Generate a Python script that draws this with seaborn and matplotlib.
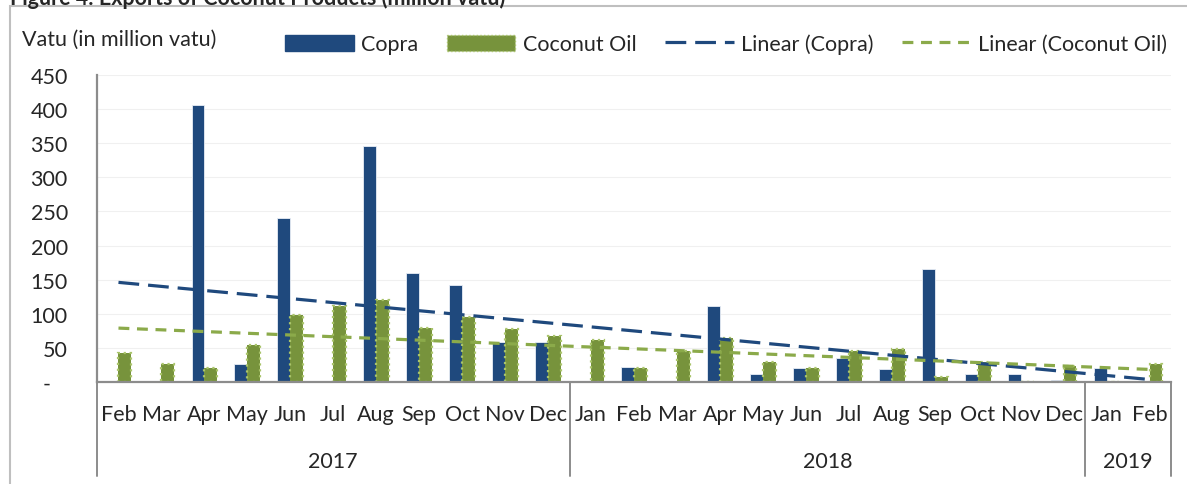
import numpy as np
import pandas as pd
import matplotlib.pyplot as plt
import matplotlib.patches as mpatches
from matplotlib.lines import Line2D
import seaborn as sns

# ---- DATA ----
months = ["Feb", "Mar", "Apr", "May", "Jun", "Jul", "Aug", "Sep", "Oct", "Nov", "Dec",
          "Jan", "Feb", "Mar", "Apr", "May", "Jun", "Jul", "Aug", "Sep", "Oct", "Nov", "Dec",
          "Jan", "Feb"]
years = ["2017", "2018", "2019"]
months_per_year = [11, 12, 2]

copra = [0, 0, 406, 26, 241, 0, 346, 160, 142, 59, 58,
         0, 22, 0, 112, 12, 20, 35, 19, 166, 12, 12, 3,
         20, 0]
coconut_oil = [43, 26, 21, 54, 98, 112, 120, 79, 96, 78, 67,
               61, 21, 46, 65, 29, 20, 46, 48, 7, 30, 0, 24,
               0, 27]

copra_color = "#1F497D"
oil_color = "#77933C"
oil_edge = "#A9C46A"

# ---- STYLE ----
sns.set_theme(style="white")
plt.rcParams["font.family"] = ["Lato", "DejaVu Sans"]
fs = 15.5

n = len(months)
idx = np.arange(n)
df = pd.DataFrame({
    "idx": np.concatenate([idx, idx]),
    "value": copra + coconut_oil,
    "series": ["Copra"] * n + ["Coconut Oil"] * n,
})

fig = plt.figure(figsize=(11.87, 4.85), dpi=100)
ax = fig.add_axes([97 / 1187, 102 / 485, (1171 - 97) / 1187, 307 / 485])

sns.barplot(data=df, x="idx", y="value", hue="series", hue_order=["Copra", "Coconut Oil"],
            palette=[copra_color, oil_color], saturation=1, width=0.6, ax=ax, legend=False)

# dotted edge on the coconut oil bars
for bar in ax.containers[1]:
    bar.set_edgecolor(oil_edge)
    bar.set_linestyle(":")
    bar.set_linewidth(1.6)
for bar in ax.containers[0]:
    bar.set_edgecolor("#E8EEF6")
    bar.set_linewidth(0.6)

# linear trend lines (least squares fit, like Excel)
c_fit = np.polyfit(idx, copra, 1)
o_fit = np.polyfit(idx, coconut_oil, 1)
ax.plot(idx, np.polyval(c_fit, idx), color=copra_color, lw=2.3, dashes=(6.5, 2.8), zorder=5)
ax.plot(idx, np.polyval(o_fit, idx), color="#8BAA4A", lw=2.3, dashes=(3.4, 2.4), zorder=5)

# axes
ax.set_xlim(-0.5, n - 0.5)
ax.set_ylim(0, 450)
ax.set_yticks(range(0, 451, 50))
ax.set_yticklabels(["-   "] + [str(v) for v in range(50, 451, 50)], fontsize=fs)
ax.set_xticks(idx)
ax.set_xticklabels(months, fontsize=fs)
ax.tick_params(axis="y", length=0, pad=21)
ax.tick_params(axis="x", length=0, pad=16)
ax.set_xlabel("")
ax.set_ylabel("")
ax.yaxis.grid(True, color="#F0F0F0", lw=0.8)
ax.set_axisbelow(True)
for side in ["top", "right"]:
    ax.spines[side].set_visible(False)
ax.spines["left"].set_color("#8C8C8C")
ax.spines["left"].set_linewidth(1.6)
ax.spines["bottom"].set_color("#8C8C8C")
ax.spines["bottom"].set_linewidth(1.6)

# year level of the category axis
bottom = -(477 - 383) / 307
bounds = np.concatenate([[0], np.cumsum(months_per_year)]) - 0.5
for b in bounds:
    ax.plot([b, b], [0, bottom], transform=ax.get_xaxis_transform(), color="#8C8C8C",
            lw=1.4, clip_on=False)
for i, y in enumerate(years):
    mid = (bounds[i] + bounds[i + 1]) / 2
    ax.text(mid, -(462 - 383) / 307, y, transform=ax.get_xaxis_transform(),
            ha="center", va="center", fontsize=fs)

# y axis title and legend
fig.text(22 / 1187, 1 - 40 / 485, "Vatu (in million vatu)", fontsize=fs, va="center")

handles = [
    mpatches.Patch(facecolor=copra_color, edgecolor=copra_color),
    mpatches.Patch(facecolor=oil_color, edgecolor=oil_edge, linestyle=":"),
    Line2D([0], [0], color=copra_color, lw=2.3, dashes=(6.5, 2.8)),
    Line2D([0], [0], color="#8BAA4A", lw=2.3, dashes=(3.4, 2.4)),
]
labels = ["Copra", "Coconut Oil", "Linear (Copra)", "Linear (Coconut Oil)"]
fig.legend(handles, labels, ncol=4, loc="center", bbox_to_anchor=(726 / 1187, 1 - 45 / 485),
           frameon=False, fontsize=fs, handlelength=3.2, handleheight=0.8,
           handletextpad=0.35, columnspacing=1.3)

# clipped figure title and outer frame
fig.text(10 / 1187, 1 - 5 / 485, "Figure 4: Exports of Coconut Products (million vatu)",
         fontsize=fs, fontweight="bold", va="baseline")
fig.patches.append(mpatches.Rectangle((10 / 1187, -0.1), 1.2, 1.1 - 7 / 485,
                                      transform=fig.transFigure, fill=False,
                                      edgecolor="#BFBFBF", lw=1.5))

fig.savefig("out.png", dpi=100)
